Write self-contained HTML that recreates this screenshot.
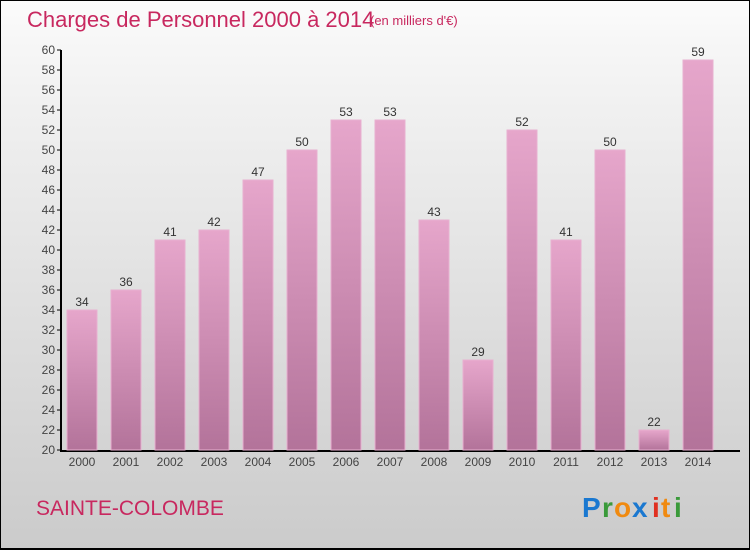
<!DOCTYPE html>
<html><head><meta charset="utf-8"><style>
body{margin:0}
#c{width:750px;height:550px;position:relative;box-sizing:border-box;border:1px solid #000;border-bottom-width:2px;background:linear-gradient(#fbfbfb,#f0f0f0 20%,#cbcbcb);font-family:"Liberation Sans",sans-serif;overflow:hidden}
</style></head><body>
<div id="c">
<svg width="750" height="550" style="position:absolute;left:-1px;top:-1px">
<defs><linearGradient id="bg" x1="0" y1="0" x2="0" y2="1"><stop offset="0" stop-color="#e6a6cb"/><stop offset="1" stop-color="#b3739a"/></linearGradient></defs>
<text x="27" y="27" font-size="22" fill="#c8285f">Charges de Personnel 2000 à 2014</text>
<text x="370" y="25" font-size="13" fill="#c8285f">(en milliers d'€)</text>
<g id="axes"></g><g id="bars"></g>
<text x="36" y="515" font-size="21" fill="#c8285f">SAINTE-COLOMBE</text>
<g font-size="28" font-weight="bold">
<text x="582" y="517" fill="#1a78d0">P</text><text x="602" y="517" fill="#3a9a3a">r</text><text x="614" y="517" fill="#f08a10">o</text><text x="632" y="517" fill="#1a78d0">x</text><text x="652" y="517" fill="#e03020">i</text><text x="661" y="517" fill="#f08a10">t</text><text x="674" y="517" fill="#3a9a3a">i</text>
</g>
</svg>
</div>
<script>
const categories=["2000","2001","2002","2003","2004","2005","2006","2007","2008","2009","2010","2011","2012","2013","2014"];
const values=[34,36,41,42,47,50,53,53,43,29,52,41,50,22,59];
const yTicks=[20,22,24,26,28,30,32,34,36,38,40,42,44,46,48,50,52,54,56,58,60];
const NS="http://www.w3.org/2000/svg";
const y=v=>450-(v-20)*10, x=i=>82+44*i;
function mk(t,a,p){const e=document.createElementNS(NS,t);for(const k in a)e.setAttribute(k,a[k]);p.appendChild(e);return e;}
const ax=document.getElementById('axes'),bars=document.getElementById('bars');
const yl=mk('line',{x1:61,y1:50,x2:61,y2:451,stroke:'#000','stroke-width':2},ax);


const xl=mk('line',{x1:60,y1:451,x2:740,y2:451,stroke:'#000','stroke-width':2},ax);


yTicks.forEach(t=>{
 mk('line',{x1:57,y1:y(t),x2:61,y2:y(t),stroke:'#000'},ax);
 const tx=mk('text',{x:55,y:y(t)+4,'text-anchor':'end','font-size':12,fill:'#444'},ax);tx.textContent=t;
 
 
});
values.forEach((v,i)=>{
 const r=mk('rect',{x:x(i)-15,y:y(v),width:30,height:450-y(v),fill:'url(#bg)',stroke:'#e8b0d0','stroke-width':1},bars);
 
 
 const l=mk('text',{x:x(i),y:y(v)-4,'text-anchor':'middle','font-size':12,fill:'#333'},bars);l.textContent=v;
 
 
 const c=mk('text',{x:x(i),y:466,'text-anchor':'middle','font-size':12,fill:'#444'},ax);c.textContent=categories[i];
 
 
});
</script>
</body></html>
